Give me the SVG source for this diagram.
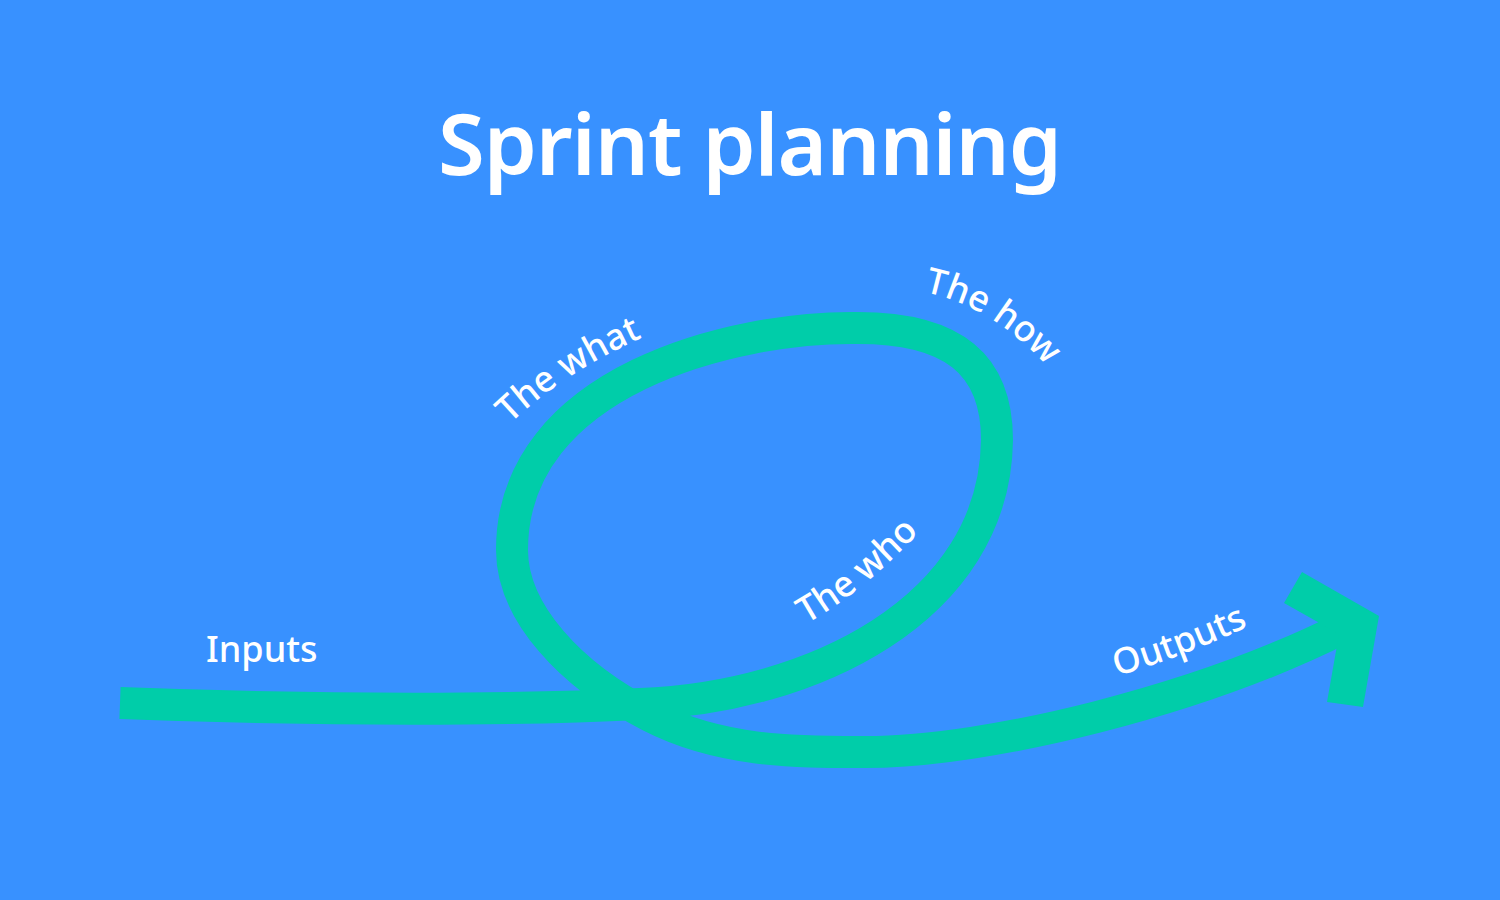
<svg xmlns="http://www.w3.org/2000/svg" width="1500" height="900" viewBox="0 0 1500 900">
  <style>
    .flow { fill: none; stroke: #00CDA9; stroke-width: 32; stroke-linecap: butt; stroke-linejoin: round; }
    .head { fill: #00CDA9; }
    .title { font-family: "Noto Sans", "Open Sans", "Liberation Sans", sans-serif; font-weight: 600; font-size: 85px; fill: #FFFFFF; }
    .label { font-family: "Noto Sans", "Open Sans", "Liberation Sans", sans-serif; font-weight: 500; font-size: 36px; fill: #FFFFFF; }
  </style>
  <defs>
    <path id="p-what" d="M 510,424 Q 568,368 660,330"/>
    <path id="p-how" d="M 924,292 Q 995,306 1055,375"/>
    <path id="p-who" d="M 806,624 Q 864,592 925,526"/>
    <path id="p-out" d="M 1117,676 Q 1184,657 1262,620"/>
  </defs>
  <rect x="0" y="0" width="1500" height="900" fill="#3891FF"/>

  <g id="title">
    <text class="title" x="750" y="175" text-anchor="middle" textLength="624">Sprint planning</text>
  </g>

  <g id="connectors">
    <path class="flow" d="M 120,703 C 330,711 520,710 640,704 C 810,698 995,610 997,440 C 997,362 950,328 858,328 C 735,326 512,380 512,550 C 512,612 570,675 650,716 C 722,753 800,752 865,752 C 990,752 1200,700 1345,627"/>
    <polygon class="head" points="1302,572 1379,616 1363,707 1327,702 1339,634 1284,603"/>
  </g>

  <g id="inputs">
    <text class="label" x="206" y="662">Inputs</text>
  </g>
  <g id="the-what">
    <text class="label"><textPath href="#p-what">The what</textPath></text>
  </g>
  <g id="the-how">
    <text class="label"><textPath href="#p-how">The how</textPath></text>
  </g>
  <g id="the-who">
    <text class="label"><textPath href="#p-who">The who</textPath></text>
  </g>
  <g id="outputs">
    <text class="label"><textPath href="#p-out">Outputs</textPath></text>
  </g>
</svg>
